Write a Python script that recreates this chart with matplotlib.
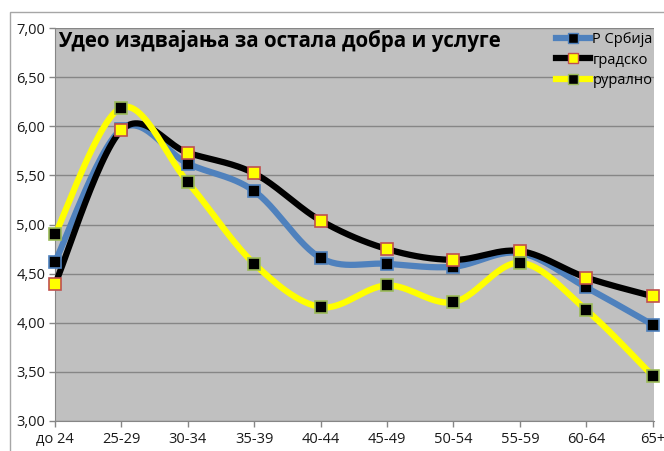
import numpy as np
import matplotlib
matplotlib.use("Agg")
import matplotlib.pyplot as plt
from matplotlib.patches import Rectangle

plt.rcParams["font.family"] = ["Open Sans", "DejaVu Sans"]

categories = ["до 24", "25-29", "30-34", "35-39", "40-44", "45-49", "50-54", "55-59", "60-64", "65+"]
serbia = [4.62, 5.97, 5.62, 5.34, 4.66, 4.60, 4.57, 4.71, 4.36, 3.98]
urban = [4.39, 5.96, 5.73, 5.52, 5.04, 4.75, 4.64, 4.73, 4.46, 4.27]
rural = [4.90, 6.19, 5.43, 4.60, 4.16, 4.38, 4.21, 4.61, 4.13, 3.46]
y_ticks = [3.0, 3.5, 4.0, 4.5, 5.0, 5.5, 6.0, 6.5, 7.0]


def smooth(xs, ys, steps=30):
    # Catmull-Rom curve through the points, like spreadsheet "smoothed line"
    p = np.column_stack([xs, ys]).astype(float)
    p = np.vstack([p[0], p, p[-1]])
    out = []
    t = np.linspace(0, 1, steps)[:, None]
    for i in range(1, len(p) - 2):
        p0, p1, p2, p3 = p[i - 1], p[i], p[i + 1], p[i + 2]
        c1 = p1 + (p2 - p0) / 6
        c2 = p2 - (p3 - p1) / 6
        seg = ((1 - t) ** 3) * p1 + 3 * ((1 - t) ** 2) * t * c1 + 3 * (1 - t) * t ** 2 * c2 + t ** 3 * p2
        out.append(seg if i == 1 else seg[1:])
    out = np.vstack(out)
    return out[:, 0], out[:, 1]


W, H = 664, 451
fig = plt.figure(figsize=(W / 100, H / 100), dpi=100)
fig.patch.set_facecolor("white")

# outer chart border
fig.add_artist(Rectangle((10 / W, -0.05), 1.0, 1 - 12 / H + 0.05, transform=fig.transFigure,
                         fill=False, edgecolor="#a6a6a6", linewidth=1.0))

left, right, top, bottom = 55, 654, 28, 421
ax = fig.add_axes([left / W, 1 - bottom / H, (right - left) / W, (bottom - top) / H])
ax.set_facecolor("#c0c0c0")

x = np.arange(len(categories))
ax.set_xlim(0, 9.02)
ax.set_ylim(3, 7)
ax.set_yticks(y_ticks)
ax.set_yticklabels([f"{v:.2f}".replace(".", ",") for v in y_ticks], fontsize=10.5)
ax.set_xticks(x)
ax.set_xticklabels(categories, fontsize=10.5)
ax.tick_params(axis="both", length=4, width=1, color="#868686", pad=4, labelcolor="#1a1a1a")
ax.tick_params(axis="y", pad=3)
ax.grid(axis="y", color="#868686", linewidth=1)
ax.set_axisbelow(True)
for side in ("top", "right"):
    ax.spines[side].set_visible(False)
for side in ("left", "bottom"):
    ax.spines[side].set_color("#868686")

series = [
    ("Р Србија", serbia, "#4f81bd", "black", "#4f81bd"),
    ("градско", urban, "black", "#ffff00", "#c0504d"),
    ("рурално", rural, "#ffff00", "black", "#9bbb59"),
]

handles = []
for i, (name, vals, lc, mfc, mec) in enumerate(series):
    sx, sy = smooth(x, vals)
    ax.plot(sx, sy, color=lc, linewidth=4.5, solid_capstyle="round", zorder=3 + i, clip_on=False)
for i, (name, vals, lc, mfc, mec) in enumerate(series):
    ax.plot(x, vals, linestyle="none", marker="s", markersize=8, markerfacecolor=mfc,
            markeredgecolor=mec, markeredgewidth=1.2, zorder=7 + i, clip_on=False)
    h, = ax.plot([], [], color=lc, linewidth=4.5, marker="s", markersize=7,
                 markerfacecolor=mfc, markeredgecolor=mec, markeredgewidth=1.0)
    handles.append(h)

ax.legend(handles, [s[0] for s in series], loc="upper left", bbox_to_anchor=(556 / W, 1 - 32 / H),
          bbox_transform=fig.transFigure, frameon=False, fontsize=10.5, handlelength=2.3,
          handletextpad=0.2, labelspacing=0.38, borderaxespad=0, borderpad=0)

fig.text(58 / W, 1 - 41 / H, "Удео издвајања за остала добра и услуге", fontsize=14.8,
         fontweight="bold", va="center", ha="left")

fig.savefig("out.png", dpi=100)
